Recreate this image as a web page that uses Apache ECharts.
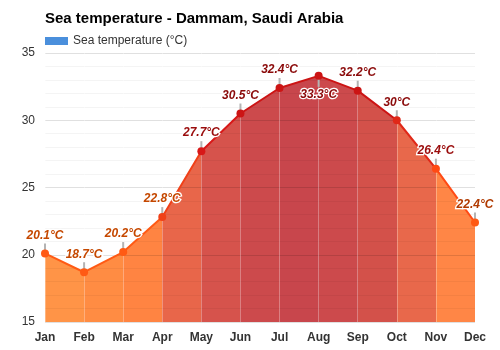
<!DOCTYPE html>
<html>
<head>
<meta charset="utf-8">
<script src="https://cdn.jsdelivr.net/npm/echarts@6/dist/echarts.min.js"></script>
<style>
  html, body { margin: 0; padding: 0; background: #fff; }
  #chart { width: 500px; height: 350px; }
</style>
</head>
<body>
<div id="chart"></div>
<script>
// Monthly sea temperature, Dammam (°C)
const months = ['Jan', 'Feb', 'Mar', 'Apr', 'May', 'Jun', 'Jul', 'Aug', 'Sep', 'Oct', 'Nov', 'Dec'];
const seaTemp = [20.1, 18.7, 20.2, 22.8, 27.7, 30.5, 32.4, 33.3, 32.2, 30, 26.4, 22.4];
const yTicks = [15, 20, 25, 30, 35];

// Colour ramps (one entry per month / month-to-month segment)
const fillColors = ['#ff9447', '#ff8c43', '#ff8442', '#e8664a', '#d6534c', '#cc4a4c', '#c8464c', '#cc4a4c', '#d3514a', '#e8684b', '#ff8646', '#ff8646'];
const lineColors = ['#ff5a14', '#ff5a14', '#ff5a14', '#f04018', '#d81818', '#cc1414', '#cc1414', '#cc1414', '#cc1414', '#e02818', '#ff4a14', '#ff5a14'];
const labelColors = ['#c54800', '#c54800', '#c54800', '#c54800', '#9a0c0c', '#8b0a0a', '#8b0a0a', '#8b0a0a', '#8b0a0a', '#8b0a0a', '#9a0c0c', '#b03a00'];
const labelBelow = 7; // the peak month carries its label under the point

const pieces = cols => cols.map((c, i) => ({ gte: i, lt: i + 1, color: c }));

const chart = echarts.init(document.getElementById('chart'));

const lineData = seaTemp.map((v, i) => ({
  value: v,
  label: {
    color: labelColors[i],
    position: i === labelBelow ? 'bottom' : 'top',
    distance: i === labelBelow ? 9 : 8
  }
}));

// short grey stems joining each point to its value label
function renderStem(params, api) {
  const i = api.value(0);
  const p = api.coord([i, api.value(1)]);
  const len = i === labelBelow ? 11 : -10;
  return {
    type: 'line',
    shape: { x1: p[0], y1: p[1], x2: p[0], y2: p[1] + len },
    style: { stroke: '#b4b4b4', lineWidth: 2 }
  };
}

chart.setOption({
  animation: false,
  textStyle: { fontFamily: 'Liberation Sans, Arial, sans-serif' },
  title: {
    text: 'Sea temperature - Dammam, Saudi Arabia',
    left: 40,
    top: 6,
    textStyle: { fontSize: 15, fontWeight: 'bold', color: '#000' }
  },
  legend: {
    left: 40,
    top: 30,
    icon: 'rect',
    itemWidth: 23,
    itemHeight: 8,
    itemGap: 6,
    textStyle: { fontSize: 12, color: '#333' },
    data: [{
      name: 'Sea temperature (°C)',
      itemStyle: { color: '#4a8fdc' },
      lineStyle: { color: '#2e6fc4' }
    }]
  },
  visualMap: [
    { show: false, type: 'piecewise', dimension: 0, seriesIndex: 0, pieces: pieces(fillColors) },
    { show: false, type: 'piecewise', dimension: 0, seriesIndex: 2, pieces: pieces(lineColors) }
  ],
  grid: { left: 45, right: 25, top: 53, bottom: 28 },
  xAxis: {
    type: 'category',
    data: months,
    boundaryGap: false,
    z: 5,
    axisLine: { show: false },
    axisTick: { show: false },
    axisLabel: { fontSize: 12, fontWeight: 'bold', color: '#333', margin: 10 },
    splitLine: { show: true, lineStyle: { color: 'rgba(255,255,255,0.3)', width: 1 } }
  },
  yAxis: {
    type: 'value',
    min: yTicks[0],
    max: yTicks[yTicks.length - 1],
    interval: 5,
    z: 5,
    axisLine: { show: false },
    axisTick: { show: false },
    axisLabel: { fontSize: 12, color: '#333', margin: 10 },
    splitLine: { lineStyle: { color: 'rgba(0,0,0,0.12)' } },
    minorTick: { show: false, splitNumber: 5 },
    minorSplitLine: { show: true, lineStyle: { color: 'rgba(0,0,0,0.045)' } }
  },
  series: [
    {
      name: 'Sea temperature (°C)',
      type: 'line',
      data: seaTemp,
      symbol: 'none',
      lineStyle: { width: 0 },
      areaStyle: { opacity: 1 },
      silent: true,
      z: 1
    },
    {
      type: 'custom',
      data: seaTemp.map((v, i) => [i, v]),
      renderItem: renderStem,
      silent: true,
      z: 6
    },
    {
      name: 'Sea temperature (°C)',
      type: 'line',
      data: lineData,
      symbol: 'circle',
      symbolSize: 8,
      showAllSymbol: true,
      lineStyle: { width: 2 },
      z: 10,
      label: {
        show: true,
        formatter: '{c}°C',
        fontSize: 12,
        fontWeight: 'bold',
        fontStyle: 'italic',
        textBorderColor: '#fff',
        textBorderWidth: 2.5
      }
    }
  ]
});
</script>
</body>
</html>
